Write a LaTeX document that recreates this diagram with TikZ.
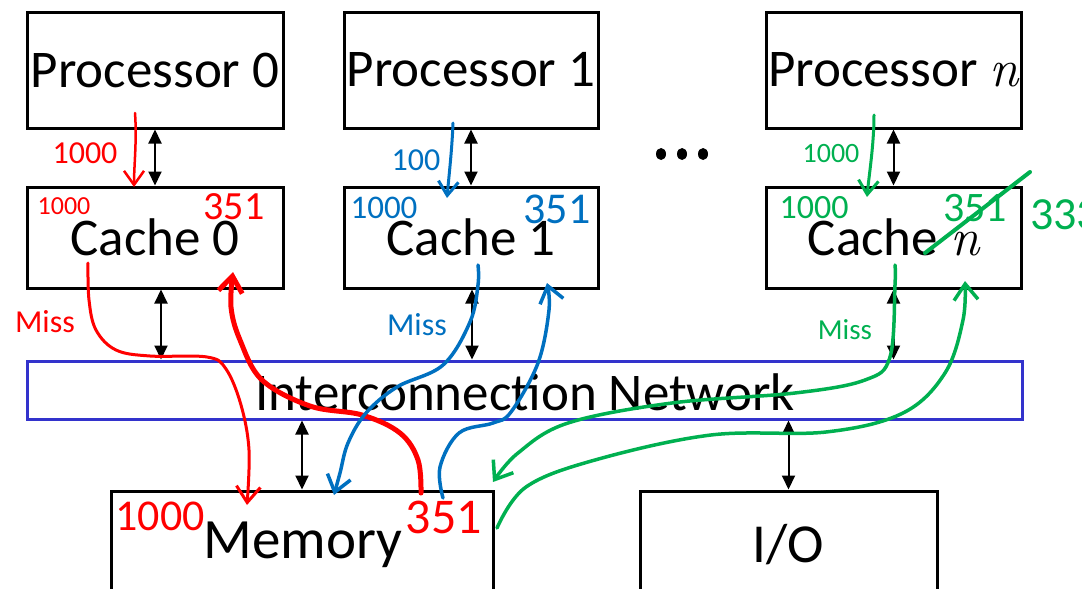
\documentclass[tikz,border=0pt]{standalone}
\usepackage{fontspec}
\setmainfont{Carlito}
\newfontfamily\lmfont{Latin Modern Roman}
\usetikzlibrary{arrows.meta}
\definecolor{hred}{RGB}{255,0,0}
\definecolor{hblue}{RGB}{0,112,192}
\definecolor{hgreen}{RGB}{0,176,80}
\definecolor{netblue}{RGB}{51,51,204}
\newcommand{\bigfont}{\fontsize{53}{60}\selectfont}
\newcommand{\nvar}{{\lmfont\itshape n}}
\begin{document}
\begin{tikzpicture}[x=1pt,y=-1pt,
  box/.style={draw=black, line width=3pt, inner sep=0pt, font=\bigfont},
  procbox/.style={box, minimum height=116pt},
  cachebox/.style={box, minimum height=101pt},
  lowbox/.style={box, minimum height=140pt},
  btext/.style={inner sep=0pt, font=\bigfont},
  dbl/.style={{Triangle[width=13pt,length=14pt]}-{Triangle[width=13pt,length=14pt]}, line width=2pt},
  hand/.style={inner sep=0pt},
  barb/.style={-{Straight Barb[length=16pt,width=24pt]}, line cap=round, line join=round},
  sbarb/.style={-{Straight Barb[length=14pt,width=20pt]}, line cap=round, line join=round}
]
\useasboundingbox (0,0) rectangle (1082,589);

% processors
\node[procbox, minimum width=256pt] (p0) at (155,70) {Processor 0};
\node[procbox, minimum width=254pt] (p1) at (471,70) {Processor 1};
\node[procbox, minimum width=255pt] (pn) at (893.5,70) {Processor \nvar};

% caches
\node[cachebox, minimum width=256pt] (c0) at (155,237.5) {Cache 0};
\node[cachebox, minimum width=254pt] (c1) at (471,237.5) {Cache 1};
\node[cachebox, minimum width=255pt] (cn) at (893.5,237.5) {Cache \nvar};

% dots
\fill (661,154) ellipse (5pt and 6pt);
\fill (682,154) ellipse (5pt and 6pt);
\fill (703,154) ellipse (5pt and 6pt);

% network
\node[draw=netblue, line width=3pt, minimum width=995pt, minimum height=58pt, inner sep=0pt] (net) at (524.5,390) {};
\node[btext] (nettext) at (525,392) {Interconnection Network};

% memory and IO
\node[lowbox, minimum width=382pt] (mem) at (302,561) {};
\node[btext, font=\fontsize{57}{60}\selectfont] (memtext) at (303,545) {Memory};
\node[lowbox, minimum width=297pt] (io) at (788.5,561) {};
\node[btext, font=\fontsize{55}{60}\selectfont] (iotext) at (788,545) {I/O};

% black arrows
\draw[dbl] (p0.south) -- (c0.north);
\draw[dbl] (p1.south) -- (c1.north);
\draw[dbl] (pn.south) -- (cn.north);
\draw[dbl] ([xshift=6pt]c0.south) -- ([xshift=6pt]c0.south |- net.north);
\draw[dbl] ([xshift=1pt]c1.south) -- ([xshift=1pt]c1.south |- net.north);
\draw[dbl] (cn.south) -- (cn.south |- net.north);
\draw[dbl] (net.south -| mem) -- (mem.north);
\draw[dbl] (net.south -| io) -- (io.north);

% ---------- red annotations ----------
\node[hand, text=hred, font=\fontsize{32}{32}\selectfont] (r1000a) at (85,153) {1000};
\node[hand, text=hred, font=\fontsize{26}{26}\selectfont] (r1000b) at (64,206) {1000};
\node[hand, text=hred, font=\fontsize{40}{40}\selectfont] (r351a) at (234,207) {351};
\node[hand, text=hred, font=\fontsize{32}{32}\selectfont] (rmiss) at (45,322) {Miss};
\node[hand, text=hred, font=\fontsize{44}{44}\selectfont] (r1000m) at (160,516) {1000};
\node[hand, text=hred, font=\fontsize{50}{50}\selectfont] (r351m) at (444,517) {351};

\coordinate (ra1) at (135,113);
\coordinate (ra2) at (134,187);
\draw[hred, line width=2.5pt, sbarb] (ra1) .. controls (137,140) and (134,165) .. (ra2);

\draw[hred, line width=3pt, barb] plot[smooth, tension=0.6] coordinates
  {(88,263) (89,300) (96,330) (116,350) (150,356) (207,357) (226,369) (241,405) (249,450) (247,505)};
\draw[hred, line width=5pt, barb] plot[smooth, tension=0.6] coordinates
  {(421,493) (418,460) (400,433) (362,415) (310,406) (262,380) (240,340) (231,307) (233,272)};

% ---------- blue annotations ----------
\node[hand, text=hblue, font=\fontsize{32}{32}\selectfont] (b100) at (416,160) {100};
\node[hand, text=hblue, font=\fontsize{33}{33}\selectfont] (b1000) at (384,208) {1000};
\node[hand, text=hblue, font=\fontsize{44}{44}\selectfont] (b351) at (557,209) {351};
\node[hand, text=hblue, font=\fontsize{32}{32}\selectfont] (bmiss) at (417,325) {Miss};

\coordinate (ba1) at (453,123);
\coordinate (ba2) at (447,198);
\draw[hblue, line width=3pt, sbarb] (ba1) .. controls (452,150) and (449,175) .. (ba2);

\draw[hblue, line width=3.5pt, barb] plot[smooth, tension=0.6] coordinates
  {(478,265) (478,285) (470,322) (443,365) (397,387) (366,413) (348,443) (340,473) (334,495)};
\draw[hblue, line width=3.5pt, barb] plot[smooth, tension=0.6] coordinates
  {(443,498) (440,467) (459,433) (493,423) (511,412) (538,363) (549,310) (547,283)};

% ---------- green annotations ----------
\node[hand, text=hgreen, font=\fontsize{28}{28}\selectfont] (g1000a) at (831,154) {1000};
\node[hand, text=hgreen, font=\fontsize{34}{34}\selectfont] (g1000b) at (814,208) {1000};
\node[hand, text=hgreen, font=\fontsize{42}{42}\selectfont] (g351) at (975,208) {351};
\node[hand, text=hgreen, font=\fontsize{46}{46}\selectfont, anchor=west] (g333) at (1030,215) {333};
\node[hand, text=hgreen, font=\fontsize{29}{29}\selectfont] (gmiss) at (845,330) {Miss};

\coordinate (gs1) at (925,253);
\coordinate (gs2) at (1030,172);
\draw[hgreen, line width=4pt, line cap=round] (gs1) -- (gs2);

\coordinate (ga1) at (874,115);
\coordinate (ga2) at (867,197);
\draw[hgreen, line width=3pt, sbarb] (ga1) .. controls (874,145) and (869,175) .. (ga2);

\draw[hgreen, line width=3.5pt, barb] plot[smooth, tension=0.6] coordinates
  {(895,265) (895,285) (890,357) (865,380) (795,393) (672,403) (568,423) (518,453) (493,482)};
\draw[hgreen, line width=3.5pt, barb] plot[smooth, tension=0.6] coordinates
  {(497,528) (526,487) (595,460) (711,435) (826,432) (903,413) (945,373) (963,320) (965,281)};
\end{tikzpicture}
\end{document}
